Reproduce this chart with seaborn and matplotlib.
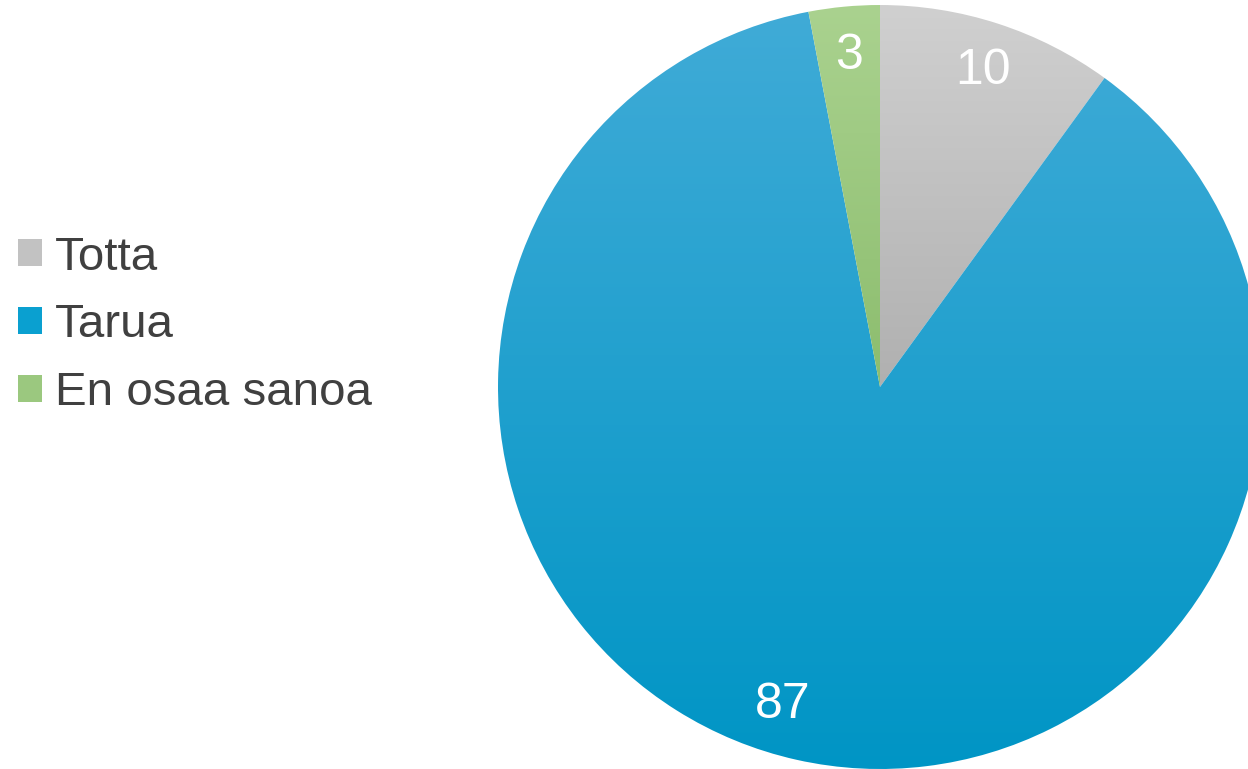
import matplotlib
matplotlib.use('Agg')
import numpy as np
import seaborn as sns
import matplotlib.pyplot as plt
from matplotlib.colors import LinearSegmentedColormap
from matplotlib.patches import Patch

sns.set_style('white')
plt.rcParams['font.family'] = ['Liberation Sans', 'DejaVu Sans']

labels = ['Totta', 'Tarua', 'En osaa sanoa']
values = [10, 87, 3]
top_colors = ['#d0d0d0', '#40abd7', '#aad28f']
bottom_colors = ['#b0b0b0', '#0095c5', '#8cbd6e']
mid_colors = ['#c2c2c2', '#0aa0d0', '#9bc87f']

W, H = 1248, 769
cx, cy, R = 880, 387, 382

fig = plt.figure(figsize=(W / 100, H / 100), dpi=100)
ax = fig.add_axes([0, 0, 1, 1])
ax.axis('off')

wedges, texts = ax.pie(values, labels=[str(v) for v in values], startangle=90,
                       counterclock=False, radius=1, labeldistance=0.87,
                       colors=mid_colors,
                       textprops=dict(color='white', fontsize=36, ha='center', va='center'))

# vertical gradient inside each wedge, using the wedge's own bounding box
for w, c0, c1 in zip(wedges, top_colors, bottom_colors):
    path = w.get_path().transformed(w.get_patch_transform())
    ext = path.get_extents()
    cmap = LinearSegmentedColormap.from_list('g', [c0, c1])
    grad = np.linspace(0, 1, 256).reshape(-1, 1)
    im = ax.imshow(grad, cmap=cmap, aspect='auto', origin='upper',
                   extent=[ext.x0, ext.x1, ext.y0, ext.y1], zorder=w.get_zorder())
    im.set_clip_path(w)
    w.set_facecolor('none')
    w.set_edgecolor('none')
for t in texts:
    t.set_zorder(5)

# the big label sits a little left of the wedge middle in the original
a = np.deg2rad(-107)
texts[1].set_position((0.87 * np.cos(a), 0.87 * np.sin(a)))

ax.set_xlim(-cx / R, (W - cx) / R)
ax.set_ylim(-(H - cy) / R, cy / R)

handles = [Patch(facecolor=c, edgecolor='none') for c in mid_colors]
fig.legend(handles, labels, loc='center left', bbox_to_anchor=(18 / W, 0.577),
           frameon=False, fontsize=34.2, labelcolor='#404040',
           borderpad=0, borderaxespad=0,
           handlelength=0.5, handleheight=0.5, handletextpad=0.27,
           labelspacing=0.5)

fig.savefig('out.png', dpi=100)
